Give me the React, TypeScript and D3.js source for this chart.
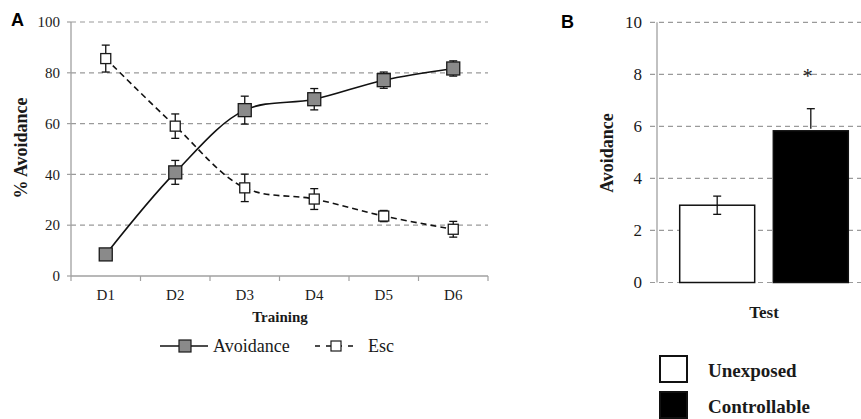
import React from "react";
import * as d3 from "d3";

const days = ["D1", "D2", "D3", "D4", "D5", "D6"];
const avoidanceMean = [8.5, 40.8, 65.3, 69.6, 77.1, 81.7];
const avoidanceErr = [1, 4.7, 5.5, 4.2, 3.2, 3];
const escMean = [85.6, 59, 34.7, 30.3, 23.6, 18.4];
const escErr = [5.3, 4.8, 5.4, 4.1, 2.2, 3.1];
const lineTicks = [0, 20, 40, 60, 80, 100];

const groups = ["Unexposed", "Controllable"];
const groupMean = [2.97, 5.83];
const groupErr = [0.35, 0.85];
const groupFill = ["#ffffff", "#000000"];
const barTicks = [0, 2, 4, 6, 8, 10];

const serif = { fontFamily: "'Liberation Serif', 'Times New Roman', serif" };
const sans = { fontFamily: "'Liberation Sans', Arial, sans-serif" };
const gridColor = "#9a9a9a";
const axisColor = "#a0a0a0";
const ink = "#1a1a1a";

export default function App() {
  // panel A
  const x = d3.scaleBand<string>().domain(days).range([71, 488]);
  const y = d3.scaleLinear().domain([0, 100]).range([276, 22]);
  const cx = (d: string) => (x(d) as number) + x.bandwidth() / 2;

  const line = d3
    .line<number>()
    .x((_, i) => cx(days[i]))
    .y((v) => y(v))
    .curve(d3.curveCatmullRom.alpha(0.5));

  // panel B
  const xb = d3
    .scaleBand<string>()
    .domain(groups)
    .range([657, 871])
    .paddingInner(0.199)
    .paddingOuter(0.2425);
  const yb = d3.scaleLinear().domain([0, 10]).range([282.5, 22.3]);

  const errBar = (xc: number, top: number, bottom: number | null, key: string, cap = 4) => (
    <g key={key} stroke="#111" strokeWidth={1.3}>
      <line x1={xc} x2={xc} y1={top} y2={bottom === null ? top + 20 : bottom} />
      <line x1={xc - cap} x2={xc + cap} y1={top} y2={top} />
      {bottom !== null && <line x1={xc - cap} x2={xc + cap} y1={bottom} y2={bottom} />}
    </g>
  );

  return (
    <svg
      width={861}
      height={419}
      style={{ position: "absolute", left: 0, top: 0, background: "#fff" }}
    >
      {/* ---------- A ---------- */}
      <text x={11} y={26} style={sans} fontWeight="bold" fontSize={18}>
        A
      </text>

      {lineTicks.map((t) => (
        <g key={"ga" + t}>
          {t > 0 && (
            <line
              x1={71}
              x2={488}
              y1={y(t)}
              y2={y(t)}
              stroke={gridColor}
              strokeWidth={1.2}
              strokeDasharray="5,4"
            />
          )}
          <line x1={67} x2={71} y1={y(t)} y2={y(t)} stroke={axisColor} strokeWidth={1.2} />
          <text x={60} y={y(t)} dy="0.35em" textAnchor="end" style={serif} fontSize={15} fill={ink}>
            {t}
          </text>
        </g>
      ))}
      <line x1={71} x2={71} y1={y(100)} y2={y(0)} stroke={axisColor} strokeWidth={1.3} />
      <line x1={71} x2={488} y1={y(0)} y2={y(0)} stroke={axisColor} strokeWidth={1.3} />
      {days.map((d) => (
        <g key={"xa" + d}>
          <line x1={x(d) as number} x2={x(d) as number} y1={276} y2={281} stroke={axisColor} strokeWidth={1.2} />
          <text x={cx(d)} y={300} textAnchor="middle" style={serif} fontSize={15} fill={ink}>
            {d}
          </text>
        </g>
      ))}
      <line x1={488} x2={488} y1={276} y2={281} stroke={axisColor} strokeWidth={1.2} />

      <text x={280} y={322} textAnchor="middle" style={serif} fontWeight="bold" fontSize={15} fill={ink}>
        Training
      </text>
      <text
        transform={`translate(27,148) rotate(-90)`}
        textAnchor="middle"
        style={serif}
        fontWeight="bold"
        fontSize={18}
        fill={ink}
      >
        % Avoidance
      </text>

      {/* lines */}
      <path d={line(escMean) || ""} fill="none" stroke="#111" strokeWidth={1.6} strokeDasharray="6,4" />
      <path d={line(avoidanceMean) || ""} fill="none" stroke="#111" strokeWidth={1.6} />

      {escMean.map((v, i) => errBar(cx(days[i]), y(v + escErr[i]), y(v - escErr[i]), "ee" + i))}
      {avoidanceMean.map((v, i) =>
        errBar(cx(days[i]), y(v + avoidanceErr[i]), y(v - avoidanceErr[i]), "ae" + i)
      )}

      {escMean.map((v, i) => (
        <rect
          key={"em" + i}
          x={cx(days[i]) - 5}
          y={y(v) - 5}
          width={10}
          height={10}
          fill="#fff"
          stroke={ink}
          strokeWidth={1.3}
        />
      ))}
      {avoidanceMean.map((v, i) => (
        <rect
          key={"am" + i}
          x={cx(days[i]) - 6.5}
          y={y(v) - 6.5}
          width={13}
          height={13}
          fill="#8a8a8a"
          stroke={ink}
          strokeWidth={1.3}
        />
      ))}

      {/* legend A */}
      <line x1={160} x2={208} y1={346} y2={346} stroke="#111" strokeWidth={1.6} />
      <rect x={179} y={340} width={12} height={12} fill="#8a8a8a" stroke={ink} strokeWidth={1.2} />
      <text x={213} y={352} style={serif} fontSize={18} fill={ink}>
        Avoidance
      </text>
      <line x1={315} x2={358} y1={346} y2={346} stroke="#111" strokeWidth={1.6} strokeDasharray="5,6" />
      <rect x={331} y={341} width={10} height={10} fill="#fff" stroke={ink} strokeWidth={1.2} />
      <text x={368} y={352} style={serif} fontSize={18} fill={ink}>
        Esc
      </text>

      {/* ---------- B ---------- */}
      <text x={561} y={28} style={sans} fontWeight="bold" fontSize={18}>
        B
      </text>
      {barTicks.map((t) => (
        <g key={"gb" + t}>
          <line
            x1={650}
            x2={861}
            y1={yb(t)}
            y2={yb(t)}
            stroke={gridColor}
            strokeWidth={1.2}
            strokeDasharray="5,4"
          />
          <text x={642} y={yb(t)} dy="0.35em" textAnchor="end" style={serif} fontSize={17} fill={ink}>
            {t}
          </text>
        </g>
      ))}
      <line x1={657} x2={657} y1={yb(10)} y2={yb(0)} stroke={axisColor} strokeWidth={1.3} />

      {groups.map((g, i) => (
        <rect
          key={"bar" + g}
          x={xb(g) as number}
          y={yb(groupMean[i])}
          width={xb.bandwidth()}
          height={yb(0) - yb(groupMean[i])}
          fill={groupFill[i]}
          stroke="#111"
          strokeWidth={1.5}
        />
      ))}
      {groups.map((g, i) => {
        const xc = (xb(g) as number) + xb.bandwidth() / 2;
        const top = yb(groupMean[i] + groupErr[i]);
        const bottom = groupFill[i] === "#000000" ? null : yb(groupMean[i] - groupErr[i]);
        return errBar(xc, top, bottom, "be" + i, 4);
      })}
      <text
        x={(xb("Controllable") as number) + xb.bandwidth() / 2 - 3}
        y={yb(8) + 9}
        textAnchor="middle"
        style={serif}
        fontSize={20}
        fill={ink}
      >
        *
      </text>

      <text x={764} y={318} textAnchor="middle" style={serif} fontWeight="bold" fontSize={17} fill={ink}>
        Test
      </text>
      <text
        transform={`translate(613,153) rotate(-90)`}
        textAnchor="middle"
        style={serif}
        fontWeight="bold"
        fontSize={18}
        fill={ink}
      >
        Avoidance
      </text>

      {/* legend B */}
      {groups.map((g, i) => (
        <g key={"lb" + g}>
          <rect
            x={660}
            y={356 + i * 36}
            width={27}
            height={26}
            fill={groupFill[i]}
            stroke="#111"
            strokeWidth={2}
          />
          <text x={708} y={377 + i * 36} style={serif} fontWeight="bold" fontSize={19} fill={ink}>
            {g}
          </text>
        </g>
      ))}
    </svg>
  );
}
